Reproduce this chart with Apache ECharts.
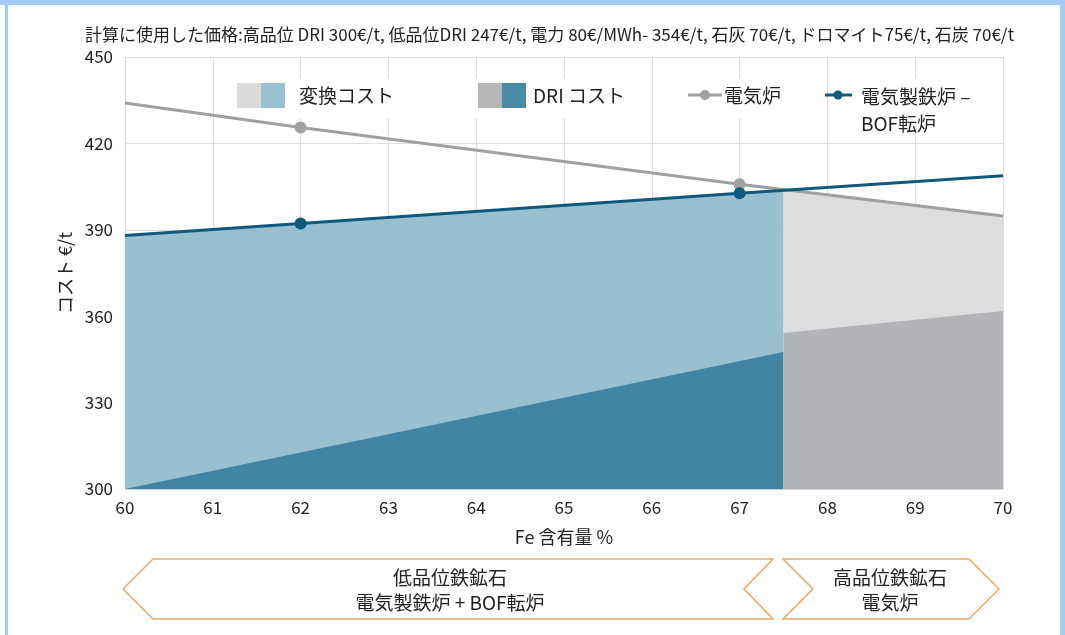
<!DOCTYPE html>
<html>
<head>
<meta charset="utf-8">
<script src="https://cdn.jsdelivr.net/npm/echarts@6/dist/echarts.min.js"></script>
<style>
  html, body { margin: 0; padding: 0; background: #fff; }
  #renderChart { width: 1065px; height: 635px; }
</style>
</head>
<body>
<div id="renderChart"></div>
<script>
// values (Fe % -> cost €/t)
const titleText = '計算に使用した価格:高品位 DRI 300€/t, 低品位DRI 247€/t, 電力 80€/MWh- 354€/t, 石灰 70€/t, ドロマイト75€/t, 石炭 70€/t';
const legendNames = ['変換コスト', 'DRI コスト', '電気炉', '電気製鉄炉 –\nBOF転炉'];

// low grade ore: EAF + BOF route
const feLow = [60, 67.5];
const totalLow = [388, 403.6];
const driLow = [300, 347.6];

// high grade ore: EAF route
const feHigh = [67.5, 70];
const totalHigh = [403.5, 394.8];
const driHigh = [354.2, 361.8];

// cost lines
const feLine = [60, 62, 67, 70];
const eafCost = [434, 425.5, 405.8, 394.8];
const bofCost = [388, 392.2, 402.7, 408.8];
const markedFe = [62, 67];

const regionLabels = [
  ['低品位鉄鉱石', '電気製鉄炉 + BOF転炉'],
  ['高品位鉄鉱石', '電気炉']
];

const cjk = "'Noto Sans CJK JP', sans-serif";

const zip = (xs, ys) => xs.map((x, i) => [x, ys[i]]);
const withMarks = (xs, ys) => xs.map((x, i) => ({
  value: [x, ys[i]],
  symbol: markedFe.includes(x) ? 'circle' : 'none'
}));

const myChart = echarts.init(document.getElementById('renderChart'));

const areaSeries = (name, data, color) => ({
  name: name,
  type: 'line',
  data: data,
  showSymbol: false,
  symbol: 'none',
  lineStyle: { width: 0 },
  areaStyle: { color: color, opacity: 1 },
  silent: true,
  z: 2
});

// legend drawn by hand: two-tone swatches
const legendFont = '19px ' + cjk;
const legendItems = [
  { type: 'rect', shape: { x: 230, y: 78, width: 165, height: 40 }, style: { fill: '#fff' }, z: 1 },
  { type: 'rect', shape: { x: 470, y: 78, width: 155, height: 40 }, style: { fill: '#fff' }, z: 1 },
  { type: 'rect', shape: { x: 684, y: 78, width: 106, height: 40 }, style: { fill: '#fff' }, z: 1 },
  { type: 'rect', shape: { x: 856, y: 78, width: 135, height: 52 }, style: { fill: '#fff' }, z: 1 },
  { type: 'rect', shape: { x: 237, y: 83, width: 24, height: 25 }, style: { fill: '#dcdcdc' }, z: 10 },
  { type: 'rect', shape: { x: 261, y: 83, width: 24, height: 25 }, style: { fill: '#98c1d2' }, z: 10 },
  { type: 'text', x: 299, y: 96, style: { text: legendNames[0], font: legendFont, fill: '#222', verticalAlign: 'middle' }, z: 10 },
  { type: 'rect', shape: { x: 478, y: 83, width: 24, height: 25 }, style: { fill: '#b6b7b9' }, z: 10 },
  { type: 'rect', shape: { x: 502, y: 83, width: 24, height: 25 }, style: { fill: '#4b8aa5' }, z: 10 },
  { type: 'text', x: 533, y: 96, style: { text: legendNames[1], font: legendFont, fill: '#222', verticalAlign: 'middle' }, z: 10 },
  { type: 'line', shape: { x1: 688, y1: 95, x2: 722, y2: 95 }, style: { stroke: '#a0a0a0', lineWidth: 3 }, z: 10 },
  { type: 'circle', shape: { cx: 705, cy: 95, r: 5 }, style: { fill: '#a0a0a0' }, z: 10 },
  { type: 'text', x: 724, y: 96, style: { text: legendNames[2], font: legendFont, fill: '#222', verticalAlign: 'middle' }, z: 10 },
  { type: 'line', shape: { x1: 825, y1: 95, x2: 852, y2: 95 }, style: { stroke: '#0f5a7c', lineWidth: 3 }, z: 10 },
  { type: 'circle', shape: { cx: 838, cy: 95, r: 4.5 }, style: { fill: '#0f5a7c' }, z: 10 },
  { type: 'text', x: 861, y: 83, style: { text: legendNames[3], font: legendFont, fill: '#222', lineHeight: 27 }, z: 10 }
];

// chevrons under the x axis
const orange = '#e9a86c';
const chevrons = [
  { type: 'polygon', shape: { points: [[123, 589], [153, 559], [773, 559], [744, 589], [773, 619], [153, 619]] },
    style: { fill: '#fff', stroke: orange, lineWidth: 1.5 } },
  { type: 'polygon', shape: { points: [[783, 559], [969, 559], [999, 589], [969, 619], [783, 619], [813, 589]] },
    style: { fill: '#fff', stroke: orange, lineWidth: 1.5 } },
  { type: 'text', x: 450, y: 590, style: { text: regionLabels[0].join('\n'), font: '19px ' + cjk, fill: '#222', align: 'center', verticalAlign: 'middle', lineHeight: 25 } },
  { type: 'text', x: 890, y: 590, style: { text: regionLabels[1].join('\n'), font: '19px ' + cjk, fill: '#222', align: 'center', verticalAlign: 'middle', lineHeight: 25 } }
];

// light blue frame round the picture
const frame = [
  { type: 'rect', shape: { x: 0, y: 0, width: 1065, height: 5 }, style: { fill: '#a2cbf6' } },
  { type: 'rect', shape: { x: 5, y: 0, width: 3, height: 635 }, style: { fill: '#a2cbf6' } },
  { type: 'rect', shape: { x: 1060, y: 0, width: 5, height: 635 }, style: { fill: '#a2cbf6' } }
];

const option = {
  backgroundColor: '#fff',
  animation: false,
  title: {
    text: titleText,
    left: 80,
    top: 21,
    textStyle: { fontSize: 17, fontWeight: 'normal', color: '#222', fontFamily: cjk }
  },
  grid: { left: 125, right: 62, top: 57, bottom: 146 },
  xAxis: {
    type: 'value',
    min: 60,
    max: 70,
    interval: 1,
    name: 'Fe 含有量 %',
    nameLocation: 'middle',
    nameGap: 39,
    nameTextStyle: { fontSize: 18, color: '#222', fontFamily: cjk },
    axisLine: { show: true, lineStyle: { color: '#cfcfcf' } },
    axisTick: { show: false },
    axisLabel: { fontSize: 17, color: '#222', margin: 10, fontFamily: cjk },
    splitLine: { show: true, lineStyle: { color: '#dedede' } }
  },
  yAxis: {
    type: 'value',
    min: 300,
    max: 450,
    interval: 30,
    name: 'コスト €/t',
    nameLocation: 'middle',
    nameGap: 41,
    nameTextStyle: { fontSize: 18, color: '#222', fontFamily: cjk },
    axisLine: { show: false },
    axisTick: { show: false },
    axisLabel: { fontSize: 17, color: '#222', margin: 12, fontFamily: cjk },
    splitLine: { show: true, lineStyle: { color: '#dedede' } }
  },
  graphic: [...frame, ...legendItems, ...chevrons],
  series: [
    areaSeries('変換コスト', zip(feLow, totalLow), 'rgba(140,186,204,0.9)'),
    areaSeries('DRI コスト', zip(feLow, driLow), 'rgba(56,125,155,0.9)'),
    areaSeries('変換コスト 高', zip(feHigh, totalHigh), 'rgba(217,217,217,0.9)'),
    areaSeries('DRI コスト 高', zip(feHigh, driHigh), 'rgba(174,175,178,0.9)'),
    {
      name: '電気炉',
      type: 'line',
      data: withMarks(feLine, eafCost),
      symbolSize: 12,
      itemStyle: { color: '#a0a0a0' },
      lineStyle: { color: '#a0a0a0', width: 3 },
      z: 3
    },
    {
      name: '電気製鉄炉 – BOF転炉',
      type: 'line',
      data: withMarks(feLine, bofCost),
      symbolSize: 12,
      itemStyle: { color: '#0f5a7c' },
      lineStyle: { color: '#0f5a7c', width: 3 },
      z: 4
    }
  ]
};

myChart.setOption(option);
</script>
</body>
</html>
